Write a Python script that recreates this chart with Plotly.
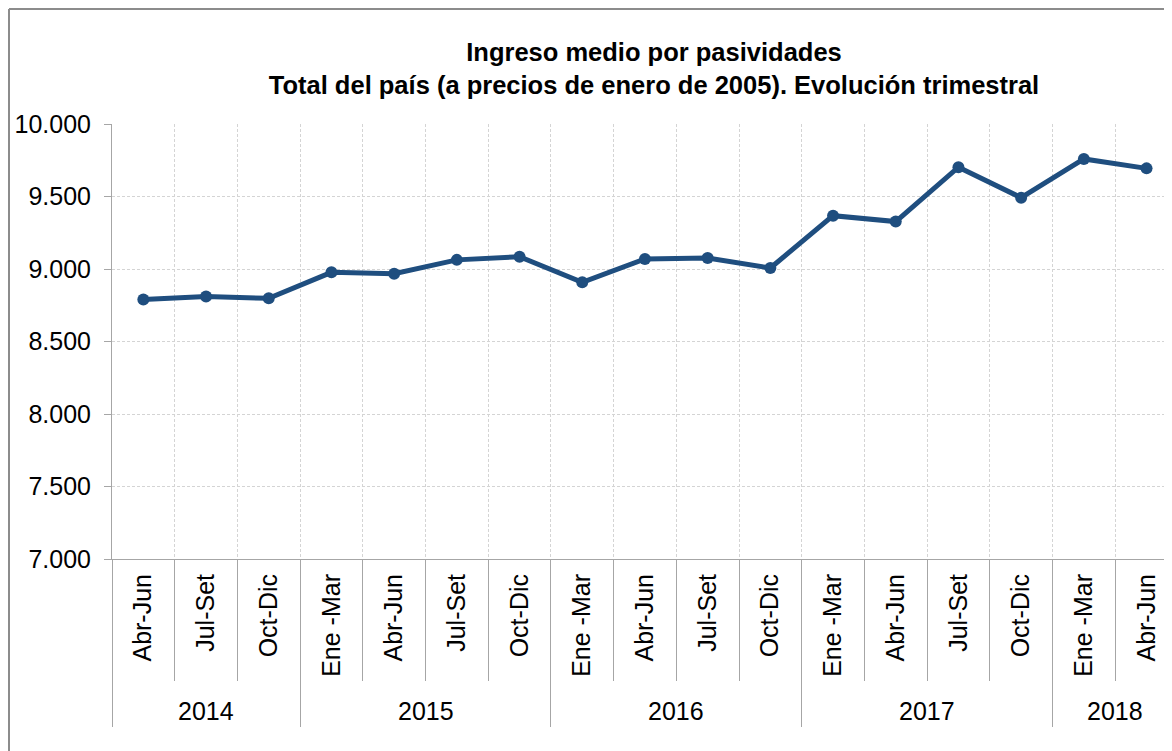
import plotly.graph_objects as go

quarters = ["Abr-Jun", "Jul-Set", "Oct-Dic",
            "Ene -Mar", "Abr-Jun", "Jul-Set", "Oct-Dic",
            "Ene -Mar", "Abr-Jun", "Jul-Set", "Oct-Dic",
            "Ene -Mar", "Abr-Jun", "Jul-Set", "Oct-Dic",
            "Ene -Mar", "Abr-Jun"]
years = ["2014", "2015", "2016", "2017", "2018"]
quarters_per_year = [3, 4, 4, 4, 2]
values = [8789, 8810, 8798, 8977, 8967, 9063, 9085, 8908, 9069, 9076, 9007,
          9368, 9327, 9702, 9492, 9759, 9694]
y_ticks = [7000, 7500, 8000, 8500, 9000, 9500, 10000]

title_l1 = "Ingreso medio por pasividades"
title_l2 = "Total del país (a precios de enero de 2005). Evolución trimestral"

FONT = "Liberation Sans, Arial, sans-serif"
LINE = "#1f4e7f"
AXIS = "#a6a6a6"
GRID = "#d4d4d4"

W, H = 1172, 751
OFF = 8  # page body margin
PL, PR, PT, PB = 112, 1177, 124, 559  # plot area in page pixels
ml, mt = PL - OFF, PT - OFF
mb = OFF + H - PB
mr = OFF + W - PR
plot_w = PR - PL
plot_h = PB - PT
unit = 62.7
xs = list(range(len(quarters)))
x_min = -0.5
x_max = x_min + plot_w / unit

bounds = [i + 0.5 for i in range(-1, len(quarters))]
year_bounds = [-0.5]
acc = -0.5
for n in quarters_per_year:
    acc += n
    year_bounds.append(acc)
year_centers = []
start = 0
for n in quarters_per_year:
    year_centers.append(start + (n - 1) / 2)
    start += n

fig = go.Figure()
fig.add_trace(go.Scatter(
    x=xs, y=values, mode="lines+markers",
    line=dict(color=LINE, width=5),
    marker=dict(color=LINE, size=12),
    showlegend=False, hoverinfo="y",
))
fig.add_trace(go.Scatter(x=[], y=[], xaxis="x2", showlegend=False, hoverinfo="skip"))
fig.add_trace(go.Scatter(x=[], y=[], xaxis="x3", showlegend=False, hoverinfo="skip"))

fig.update_layout(
    width=W, height=H,
    margin=dict(l=ml, r=mr, t=mt, b=mb),
    paper_bgcolor="white", plot_bgcolor="white",
    separators=",.",
    font=dict(family=FONT, color="#000000", size=22),
    title=dict(
        text="<b>" + title_l1 + "</b><br><b>" + title_l2 + "</b>",
        x=(654 - OFF) / W, xanchor="center", xref="container",
        y=1 - (61 - OFF) / H, yanchor="middle", yref="container",
        font=dict(family=FONT, size=25.5, color="#000000"),
    ),
    xaxis=dict(
        range=[x_min, x_max], tickmode="array", tickvals=xs, ticktext=quarters,
        tickangle=-90, ticks="outside", ticklen=4, tickcolor="rgba(0,0,0,0)",
        showgrid=False, zeroline=False, showline=True, linecolor=AXIS, linewidth=1,
        tickfont=dict(family=FONT, size=25, color="#000000"),
    ),
    xaxis2=dict(
        overlaying="x", anchor="y", side="bottom", range=[x_min, x_max],
        tickmode="array", tickvals=bounds, showticklabels=False,
        ticks="outside", ticklen=121, tickcolor=AXIS, tickwidth=1,
        showgrid=True, gridcolor=GRID, griddash="3px,2px", gridwidth=1,
        zeroline=False, showline=False,
    ),
    xaxis3=dict(
        overlaying="x", anchor="y", side="bottom", range=[x_min, x_max],
        tickmode="array", tickvals=year_bounds, showticklabels=False,
        ticks="outside", ticklen=167, tickcolor=AXIS, tickwidth=1,
        showgrid=False, zeroline=False, showline=False,
    ),
    yaxis=dict(
        range=[7000, 10000], tickmode="array", tickvals=y_ticks,
        tickformat=",d", ticks="outside", ticklen=7, tickcolor=AXIS,
        ticklabelstandoff=8,
        showgrid=True, gridcolor=GRID, griddash="3px,2px", gridwidth=1,
        zeroline=False, showline=True, linecolor=AXIS, linewidth=1,
        tickfont=dict(family=FONT, size=25, color="#000000"),
    ),
)

for yr, c in zip(years, year_centers):
    fig.add_annotation(
        x=c, xref="x", y=-(711 - PB) / plot_h, yref="paper",
        text=yr, showarrow=False, xanchor="center", yanchor="middle",
        font=dict(family=FONT, size=25, color="#000000"),
    )

# outer chart frame (left and top edges)
fx = (9 - PL) / plot_w
fy_top = (PB - 9) / plot_h
fy_bot = -(H + OFF + 5 - PB) / plot_h
fig.add_shape(type="line", xref="paper", yref="paper",
              x0=fx, x1=fx, y0=fy_bot, y1=fy_top,
              line=dict(color="#8c8c8c", width=2))
fig.add_shape(type="line", xref="paper", yref="paper",
              x0=fx, x1=(W + OFF + 5 - PL) / plot_w, y0=fy_top, y1=fy_top,
              line=dict(color="#8c8c8c", width=2))

fig.write_html("out.html")
